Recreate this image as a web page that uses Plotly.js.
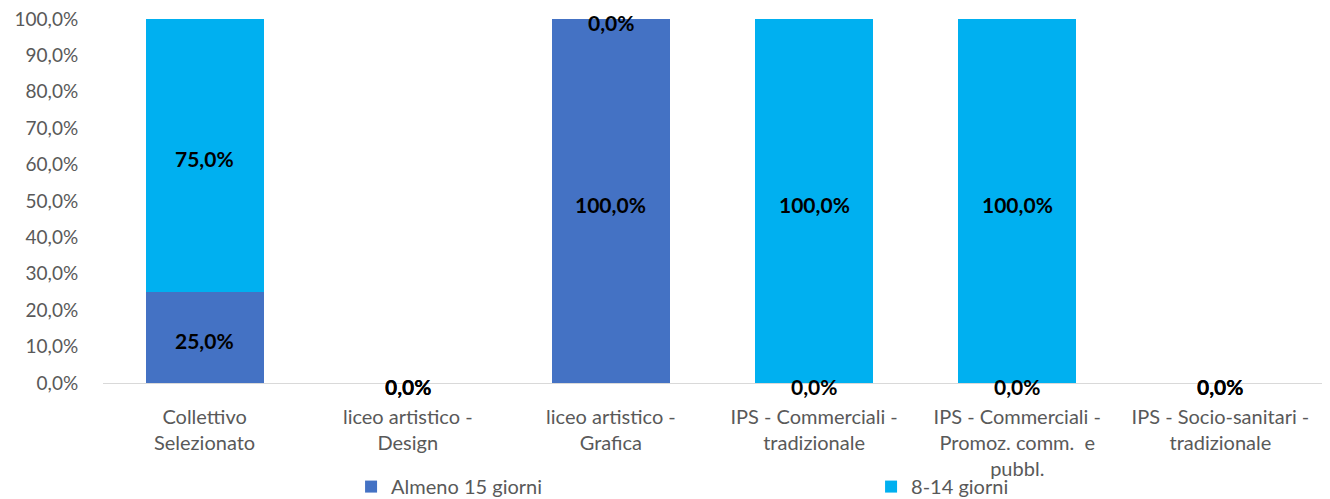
<!DOCTYPE html>
<html>
<head>
<meta charset="utf-8">
<script src="https://cdn.plot.ly/plotly-3.0.1.min.js"></script>
<style>html,body{margin:0;padding:0;background:#fff;}#chart{width:1330px;height:499px;}</style>
</head>
<body>
<div id="chart"></div>
<script>
const categories = ["Collettivo Selezionato", "liceo artistico - Design", "liceo artistico - Grafica", "IPS - Commerciali - tradizionale", "IPS - Commerciali - Promoz. comm. e pubbl.", "IPS - Socio-sanitari - tradizionale"];
const tickLabels = ["Collettivo<br>Selezionato", "liceo artistico -<br>Design", "liceo artistico -<br>Grafica", "IPS - Commerciali -<br>tradizionale", "IPS - Commerciali -<br>Promoz. comm.  e<br>pubbl.", "IPS - Socio-sanitari -<br>tradizionale"];
const seriesNames = ["Almeno 15 giorni", "8-14 giorni"];
const almeno15 = [25.0, 0.0, 100.0, 0.0, 0.0, 0.0];
const giorni8_14 = [75.0, 0.0, 0.0, 100.0, 100.0, 0.0];
const yTicks = [0, 10, 20, 30, 40, 50, 60, 70, 80, 90, 100];

const colors = ["#4472C4", "#00B0F0"];
const fmt = v => v.toFixed(1).replace('.', ',') + '%';
const font = "Lato, 'Open Sans', sans-serif";

const series = [almeno15, giorni8_14];
const traces = [];
const annotations = [];
series.forEach((vals, i) => {
  traces.push({
    type: 'bar', name: seriesNames[i], x: categories, y: vals,
    marker: {color: colors[i]}, width: 0.58, hoverinfo: 'skip'
  });
  // data labels at segment centres
  vals.forEach((v, k) => {
    const base = series.slice(0, i).reduce((s, arr) => s + arr[k], 0);
    annotations.push({
      x: categories[k], y: base + v / 2, xref: 'x', yref: 'y',
      text: '<b>' + fmt(v) + '</b>', showarrow: false,
      xanchor: 'center', yanchor: 'middle', yshift: -3,
      font: {family: font, size: 21, color: '#000000'}
    });
  });
});

const layout = {
  width: 1330, height: 499,
  margin: {l: 103, r: 8, t: 19, b: 116, autoexpand: false},
  paper_bgcolor: '#ffffff', plot_bgcolor: '#ffffff',
  barmode: 'stack', separators: ', ',
  font: {family: font, color: '#595959', size: 19},
  showlegend: true,
  legend: {
    orientation: 'h', x: 0.2035, xanchor: 'left', y: -0.231, yanchor: 'top',
    entrywidth: 475, entrywidthmode: 'pixels', itemwidth: 30,
    bgcolor: 'rgba(0,0,0,0)',
    font: {family: font, size: 20, color: '#595959'}, traceorder: 'normal'
  },
  annotations: annotations,
  xaxis: {
    type: 'category', tickmode: 'array', tickvals: categories, ticktext: tickLabels,
    showline: true, linecolor: '#d9d9d9', linewidth: 1, showgrid: false, zeroline: false,
    ticks: 'outside', ticklen: 16, tickcolor: 'rgba(0,0,0,0)',
    tickfont: {family: font, size: 20, color: '#595959'}
  },
  yaxis: {
    range: [0, 100], tickmode: 'array', tickvals: yTicks, ticktext: yTicks.map(fmt),
    showgrid: false, zeroline: false, showline: false,
    ticks: 'outside', ticklen: 20, tickcolor: 'rgba(0,0,0,0)',
    tickfont: {family: font, size: 19, color: '#595959'}
  }
};

Plotly.newPlot('chart', traces, layout, {displayModeBar: false, staticPlot: true});
</script>
</body>
</html>
